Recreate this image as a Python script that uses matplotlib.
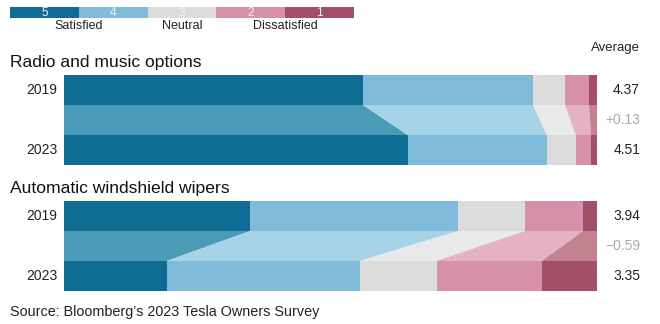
import matplotlib
matplotlib.use("Agg")
import matplotlib.pyplot as plt
from matplotlib.patches import Polygon
import numpy as np

plt.rcParams['font.family'] = ['Liberation Sans', 'DejaVu Sans']

# Survey responses, share of owners per score (5 = best ... 1 = worst), in percent
scores = ["5", "4", "3", "2", "1"]
years = ["2019", "2023"]

features = ["Radio and music options", "Automatic windshield wipers"]
radio_2019 = [56.1, 31.9, 6.0, 4.5, 1.5]
radio_2023 = [64.5, 26.1, 5.4, 2.9, 1.1]
wipers_2019 = [34.9, 39.0, 12.6, 10.9, 2.6]
wipers_2023 = [19.3, 36.2, 14.4, 19.8, 10.3]

# average score per year and change between surveys
avg_2019 = [4.37, 3.94]
avg_2023 = [4.51, 3.35]
avg_change = [0.13, -0.59]

legend_groups = ["Satisfied", "Neutral", "Dissatisfied"]

colors = ["#0e6c95", "#7fbcdb", "#dcdcdc", "#d690aa", "#a34f67"]
light_colors = ["#4b9ab6", "#a6d3e6", "#e9e9e9", "#e5b2c3", "#c2828f"]

W, H = 660, 324
fig = plt.figure(figsize=(W / 100, H / 100), dpi=100)
fig.patch.set_facecolor("white")


def fx(px):
    return px / W


def fy(py):
    return 1 - py / H


# legend strip
lax = fig.add_axes([fx(10), fy(18), fx(344), 11 / H])
lax.set_xlim(0, len(scores))
lax.set_ylim(0, 1)
lax.axis("off")
for i, (s, c) in enumerate(zip(scores, colors)):
    lax.barh(0.5, 1, left=i, height=1, color=c, linewidth=0)
    lax.text(i + 0.5, 0.5, s, ha="center", va="center", color="#f4f4f4",
             fontsize=8.5)
for pos, lab in zip([1.0, 2.5, 4.0], legend_groups):
    lax.text(pos, -0.2, lab, ha="center", va="top", fontsize=9,
             color="#222222")

fig.text(fx(640), fy(48), "Average", ha="right", va="center",
         fontsize=9.5, color="#222222")

panels = [
    (0, radio_2019, radio_2023, 75, 62),
    (1, wipers_2019, wipers_2023, 201, 188),
]

for k, v0, v1, top, title_y in panels:
    ax = fig.add_axes([fx(64), fy(top + 90), fx(533), 90 / H])
    ax.set_xlim(0, 100)
    ax.set_ylim(3, 0)
    ax.axis("off")
    c0 = np.concatenate([[0], np.cumsum(v0)])
    c1 = np.concatenate([[0], np.cumsum(v1)])
    for i in range(len(scores)):
        ax.barh(0.5, v0[i], left=c0[i], height=1.0, color=colors[i],
                linewidth=0)
        ax.barh(2.5, v1[i], left=c1[i], height=1.0, color=colors[i],
                linewidth=0)
        # band linking the two years for this score
        poly = Polygon([(c0[i], 1), (c0[i + 1], 1), (c1[i + 1], 2), (c1[i], 2)],
                       closed=True, facecolor=light_colors[i], edgecolor="none")
        ax.add_patch(poly)

    fig.text(fx(10), fy(title_y), features[k], ha="left", va="center",
             fontsize=12.6, color="#111111")
    ax.text(-1.3, 0.5, years[0], ha="right", va="center", fontsize=10,
            color="#222222")
    ax.text(-1.3, 2.5, years[1], ha="right", va="center", fontsize=10,
            color="#222222")
    fig.text(fx(640), fy(top + 15), f"{avg_2019[k]:.2f}", ha="right",
             va="center", fontsize=10, color="#222222")
    diff = avg_change[k]
    sign = "+" if diff >= 0 else "\u2212"
    fig.text(fx(640), fy(top + 45), f"{sign}{abs(diff):.2f}", ha="right",
             va="center", fontsize=10, color="#aaaaaa")
    fig.text(fx(640), fy(top + 75), f"{avg_2023[k]:.2f}", ha="right",
             va="center", fontsize=10, color="#222222")

fig.text(fx(10), fy(312), "Source: Bloomberg\u2019s 2023 Tesla Owners Survey",
         ha="left", va="center", fontsize=10.4, color="#222222")

fig.savefig("out.png", dpi=100, facecolor="white")
